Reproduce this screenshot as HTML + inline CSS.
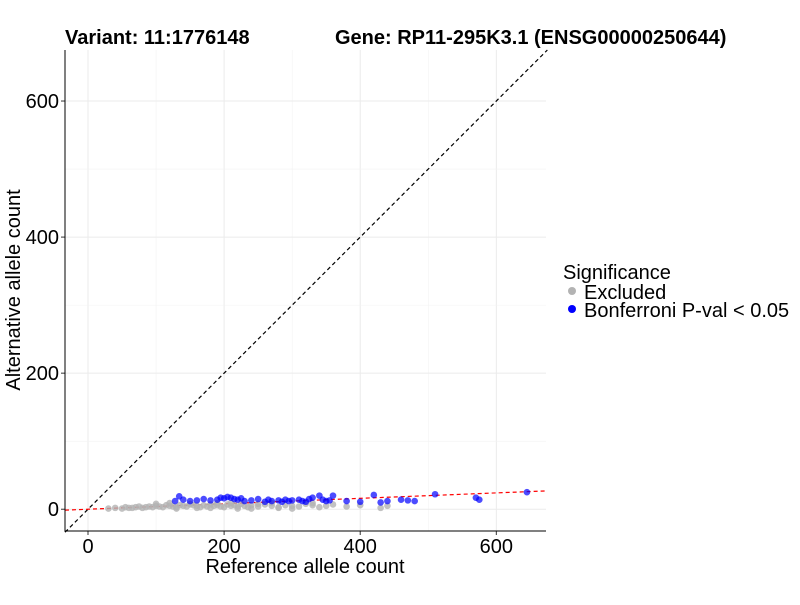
<!DOCTYPE html>
<html><head><meta charset="utf-8"><style>
body{margin:0;background:#fff;font-family:"Liberation Sans",Arial,sans-serif}
</style></head><body>
<svg id="c" width="800" height="600" xmlns="http://www.w3.org/2000/svg" font-family="Liberation Sans, Arial, sans-serif">
<text x="65" y="44" font-size="20" font-weight="bold">Variant: 11:1776148</text>
<text x="335" y="44" font-size="20" font-weight="bold">Gene: RP11-295K3.1 (ENSG00000250644)</text>
<g id="grid"></g><g id="lines"></g><g id="pts"></g><g id="axes"></g>
<text x="305" y="573" font-size="20" text-anchor="middle">Reference allele count</text>
<text transform="translate(20,290) rotate(-90)" font-size="20" text-anchor="middle">Alternative allele count</text>
<g>
<text x="563" y="279" font-size="20">Significance</text>
<circle cx="572" cy="291" r="4" fill="#b3b3b3"/>
<text x="584" y="299" font-size="20">Excluded</text>
<circle cx="572" cy="309" r="4" fill="#0000ff"/>
<text x="584" y="317" font-size="20">Bonferroni P-val &lt; 0.05</text>
</g>
</svg>
<script>
const grayX=[30,40,50,55,60,65,70,75,80,85,90,95,100,105,110,115,120,125,130,135,140,145,150,155,160,165,170,175,180,185,190,195,200,205,210,215,220,225,230,235,240,250,260,270,280,290,300,310,320,330,340,350,360,380,400,430,440,100,130,160,190,220,250,280,120,150,180,210,240,270,300,330];
const grayY=[1,2,1,3,2,2,3,4,2,3,4,3,5,4,3,6,5,4,3,6,5,4,7,6,5,3,6,4,7,5,6,4,3,7,5,6,4,8,5,3,6,4,7,5,3,6,5,4,8,6,3,5,7,4,6,2,5,8,1,2,9,1,8,2,9,8,2,9,1,9,1,9];
const blueX=[128,134,140,150,160,170,180,190,195,200,205,210,215,220,225,230,240,250,260,265,270,280,285,290,295,300,310,315,320,325,330,340,345,350,355,360,380,400,420,430,440,460,470,480,510,570,575,645];
const blueY=[12,19,14,12,13,15,13,14,17,16,18,17,15,14,16,12,13,15,11,14,12,13,11,14,12,13,14,12,11,15,17,20,14,12,13,20,12,11,21,10,12,14,13,12,22,17,14,25];
const xTicks=[0,200,400,600];
const yTicks=[0,200,400,600];
const fitSlope=[0.04];
const NS="http://www.w3.org/2000/svg";
const L=65,R=546,T=50,B=531;
const xMin=-33.8,xMax=673,yMin=-32,yMax=675;
const sx=v=>L+(v-xMin)/(xMax-xMin)*(R-L);
const sy=v=>B-(v-yMin)/(yMax-yMin)*(B-T);
function mk(p,tag,a){const e=document.createElementNS(NS,tag);for(const k in a)e.setAttribute(k,a[k]);document.getElementById(p).appendChild(e);return e;}
xTicks.forEach((t,i)=>{const g=mk('grid','line',{x1:sx(t),x2:sx(t),y1:T,y2:B,stroke:'#ebebeb','stroke-width':1});


if(i<xTicks.length-1){const m=mk('grid','line',{x1:sx(t+100),x2:sx(t+100),y1:T,y2:B,stroke:'#f2f2f2','stroke-width':0.6});

}
const tx=mk('axes','text',{x:sx(t),y:B+22,'font-size':20,'text-anchor':'middle',fill:'#000'});tx.textContent=t;


mk('axes','line',{x1:sx(t),x2:sx(t),y1:B,y2:B+4,stroke:'#333'});});
yTicks.forEach((t,i)=>{const g=mk('grid','line',{x1:L,x2:R,y1:sy(t),y2:sy(t),stroke:'#ebebeb','stroke-width':1});


if(i<yTicks.length-1){const m=mk('grid','line',{x1:L,x2:R,y1:sy(t+100),y2:sy(t+100),stroke:'#f2f2f2','stroke-width':0.6});

}
const tx=mk('axes','text',{x:L-6,y:sy(t)+7,'font-size':20,'text-anchor':'end',fill:'#000'});tx.textContent=t;


mk('axes','line',{x1:L-4,x2:L,y1:sy(t),y2:sy(t),stroke:'#333'});});
const ax=mk('axes','path',{d:`M${L},${T}V${B}H${R}`,fill:'none',stroke:'#000','stroke-width':1});


const d=mk('lines','line',{x1:sx(xMin),y1:sy(xMin),x2:sx(yMax),y2:sy(yMax),stroke:'#000','stroke-dasharray':'4,3','stroke-width':1.2});


const f=mk('lines','line',{x1:sx(xMin),y1:sy(xMin*fitSlope[0]),x2:sx(xMax),y2:sy(xMax*fitSlope[0]),stroke:'#ff0000','stroke-dasharray':'4,3','stroke-width':1.2});


grayX.forEach((x,i)=>{const c=mk('pts','circle',{cx:sx(x),cy:sy(grayY[i]),r:3.3,fill:'#b3b3b3','fill-opacity':0.8});

});
blueX.forEach((x,i)=>{const c=mk('pts','circle',{cx:sx(x),cy:sy(blueY[i]),r:3.3,fill:'#0000ff','fill-opacity':0.7});

});
</script>
</body></html>
